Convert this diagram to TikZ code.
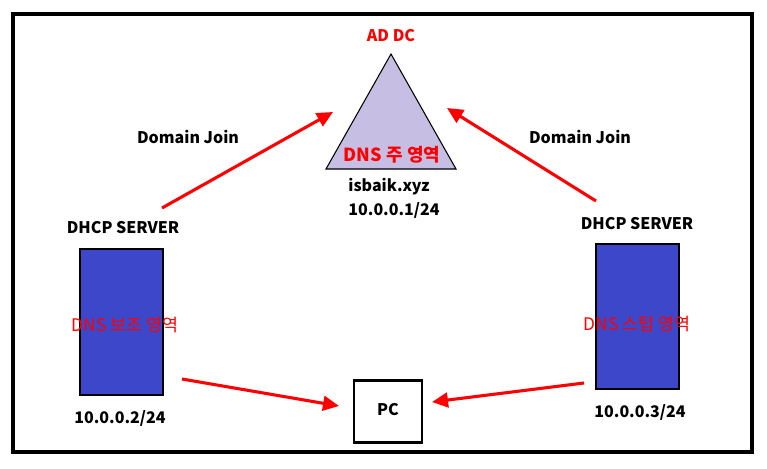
\documentclass[tikz,border=0pt]{standalone}
\usepackage{fontspec}
\setmainfont{Noto Sans CJK KR}
\usetikzlibrary{arrows.meta}
\definecolor{tri}{HTML}{C6BFE3}
\definecolor{srv}{HTML}{3D47C9}
\definecolor{rd}{HTML}{FF0000}
\tikzset{
  lbl/.style={font=\fontsize{12}{14}\selectfont\bfseries, inner sep=0pt},
  rlbl/.style={lbl, text=rd},
  zone/.style={font=\fontsize{13}{15}\selectfont, text=rd, inner sep=0pt},
  server/.style={draw=black, fill=srv, line width=0.8pt},
  link/.style={draw=rd, line width=2.3pt, -{Triangle[length=12pt,width=11pt]}}
}
\begin{document}
\begin{tikzpicture}[x=0.75pt,y=-0.75pt]
\useasboundingbox (0,0) rectangle (767,468);
\draw[line width=2.3pt] (13,14) rectangle (752,452);
% AD DC triangle
\draw[fill=tri, line width=0.8pt] (391,54) -- (456,169) -- (326,169) -- cycle;
\coordinate (adl) at (333,112);
\coordinate (adr) at (447,108);
\node[rlbl] (ad) at (391,36) {AD DC};
\node[rlbl, font=\fontsize{13.5}{15}\selectfont\bfseries] (pz) at (392,155) {DNS 주 영역};
\node[lbl] (dom) at (389,187) {isbaik.xyz};
\node[lbl] (ip1) at (394,210) {10.0.0.1/24};
% left server
\draw[server] (80,249) rectangle (163,395);
\node[lbl] (h1) at (123,228) {DHCP SERVER};
\node[zone] (z1) at (125,325) {DNS 보조 영역};
\node[lbl] (ip2) at (120,418) {10.0.0.2/24};
\coordinate (ls1) at (162,208);
\coordinate (ls2) at (182,379);
% right server
\draw[server] (596,244) rectangle (679,389);
\node[lbl] (h2) at (637,224) {DHCP SERVER};
\node[zone] (z2) at (637,324) {DNS 스텁 영역};
\node[lbl] (ip3) at (640,412) {10.0.0.3/24};
\coordinate (rs1) at (596,201);
\coordinate (rs2) at (584,383);
% PC
\node[draw, line width=2.2pt, minimum width=51pt, minimum height=46pt, inner sep=0pt] (pc) at (388,411.5) {};
\node[lbl] (pct) at (388,410) {PC};
\coordinate (pcl) at (339,406);
\coordinate (pcr) at (432,402);
% labels
\node[lbl] (dj1) at (188,137) {Domain Join};
\node[lbl] (dj2) at (580,137) {Domain Join};
% arrows
\draw[link] (ls1) -- (adl);
\draw[link] (rs1) -- (adr);
\draw[link] (ls2) -- (pcl);
\draw[link] (rs2) -- (pcr);
\end{tikzpicture}
\end{document}
